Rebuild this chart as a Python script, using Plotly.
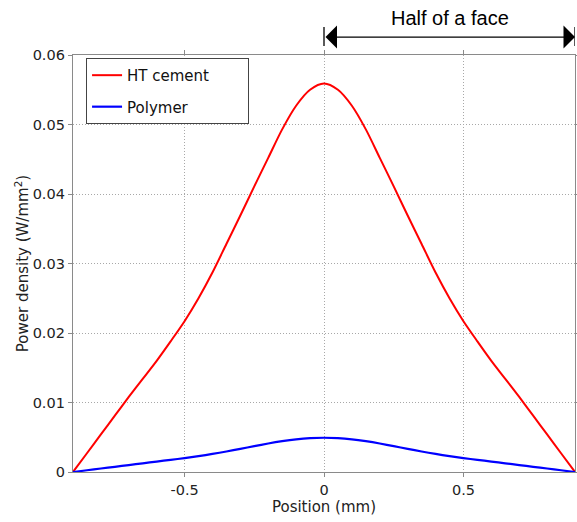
import plotly.graph_objects as go

position = [-0.9, -0.85, -0.8, -0.75, -0.7, -0.65, -0.6, -0.55, -0.5, -0.45, -0.4, -0.35, -0.3, -0.25, -0.2, -0.15, -0.1, -0.05, 0.0,
            0.05, 0.1, 0.15, 0.2, 0.25, 0.3, 0.35, 0.4, 0.45, 0.5, 0.55, 0.6, 0.65, 0.7, 0.75, 0.8, 0.85, 0.9]
ht_cement = [0.0, 0.0027, 0.0054, 0.0081, 0.0108, 0.0134, 0.0160, 0.0188, 0.0217, 0.0250, 0.0287, 0.0328, 0.0369, 0.0411, 0.0452, 0.0493, 0.0527, 0.0550, 0.0559,
             0.0550, 0.0527, 0.0493, 0.0452, 0.0411, 0.0369, 0.0328, 0.0287, 0.0250, 0.0217, 0.0188, 0.0160, 0.0134, 0.0108, 0.0081, 0.0054, 0.0027, 0.0]
polymer = [0.0, 0.00025, 0.0005, 0.00075, 0.0010, 0.00125, 0.0015, 0.00175, 0.0020, 0.00228, 0.0026, 0.00295, 0.00333, 0.00372, 0.0041, 0.00443, 0.0047, 0.00487, 0.00493,
           0.00487, 0.0047, 0.00443, 0.0041, 0.00372, 0.00333, 0.00295, 0.0026, 0.00228, 0.0020, 0.00175, 0.0015, 0.00125, 0.0010, 0.00075, 0.0005, 0.00025, 0.0]

x_range = [-0.9, 0.9]
y_range = [0, 0.06]
x_tickvals = [-0.5, 0, 0.5]
x_ticktext = ["-0.5", "0", "0.5"]
y_tickvals = [0, 0.01, 0.02, 0.03, 0.04, 0.05, 0.06]
y_ticktext = ["0", "0.01", "0.02", "0.03", "0.04", "0.05", "0.06"]
series_names = ["HT cement", "Polymer"]
arrow_span = [0.0, 0.9]
arrow_label = "Half of a face"

font_family = "DejaVu Sans"
axis_color = "#8a8a8a"
grid_color = "#a8a8a8"
pad = "\u00a0" * 7  # widen legend box like the reference

fig = go.Figure()
fig.add_trace(go.Scatter(x=position, y=ht_cement, mode="lines", name=series_names[0] + pad,
                         line=dict(color="#ff0000", width=2, shape="spline", smoothing=0.8),
                         legendgroup="a"))
fig.add_trace(go.Scatter(x=position, y=polymer, mode="lines", name=series_names[1],
                         line=dict(color="#0000ff", width=2.2, shape="spline", smoothing=0.8),
                         legendgroup="b"))

axis_common = dict(showline=True, linecolor=axis_color, linewidth=1.3, mirror="ticks",
                   ticks="outside", ticklen=4, tickcolor=axis_color, tickwidth=1,
                   showgrid=True, gridcolor=grid_color, griddash="1px,2px", gridwidth=1,
                   zeroline=False, automargin=False,
                   tickfont=dict(family=font_family, size=14.5, color="#222222"))

fig.update_xaxes(range=x_range, tickvals=x_tickvals, ticktext=x_ticktext,
                 title=dict(text="Position (mm)", font=dict(family=font_family, size=15, color="#222222"), standoff=4),
                 **axis_common)
fig.update_yaxes(range=y_range, tickvals=y_tickvals, ticktext=y_ticktext,
                 title=dict(text="Power density (W/mm<sup>2</sup>)", font=dict(family=font_family, size=15, color="#222222"), standoff=0),
                 **axis_common)

# double-headed arrow above the plot
arrow_y = 1.043
fig.add_annotation(x=arrow_span[1], y=arrow_y, xref="x", yref="paper",
                   ax=arrow_span[0], ay=0, axref="x", ayref="pixel",
                   text="", showarrow=True, arrowhead=1, startarrowhead=1,
                   arrowside="end+start", arrowsize=3.2, startarrowsize=3.2,
                   arrowwidth=1.2, arrowcolor="black", standoff=0, startstandoff=0)
for xv in arrow_span:
    fig.add_shape(type="line", xref="x", yref="paper", x0=xv, x1=xv, y0=1.0216, y1=1.067,
                  line=dict(color="black", width=1.3))
fig.add_annotation(x=sum(arrow_span) / 2, y=1.088, xref="x", yref="paper", text=arrow_label,
                   xanchor="center", yanchor="middle",
                   showarrow=False, font=dict(family="Liberation Sans", size=20, color="black"))

fig.update_layout(
    width=577, height=522,
    margin=dict(l=73, r=2, t=55, b=50),
    paper_bgcolor="white", plot_bgcolor="white",
    showlegend=True,
    legend=dict(x=0.026, y=0.993, xanchor="left", yanchor="top",
                bgcolor="white", bordercolor="#444444", borderwidth=1,
                font=dict(family=font_family, size=15, color="#111111"),
                tracegroupgap=9, itemwidth=30),
)

fig.write_html("out.html")
